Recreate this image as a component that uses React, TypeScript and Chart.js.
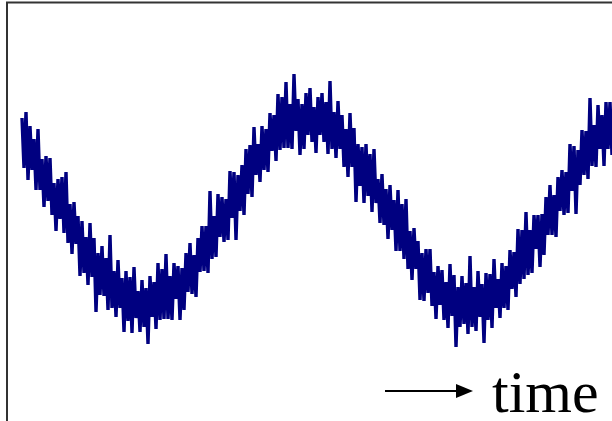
import React, { useEffect, useRef } from "react";
import { Chart, registerables } from "chart.js";

Chart.register(...registerables);

// Noisy periodic signal, one sample every time step (amplitude units)
const signal: number[] = [
  93, 43, 99, 31, 85,
  41, 72, 21, 82, 21,
  52, 4, 55, 10, 53,
  -4, 28, -20, 32, -8,
  34, -22, 39, -32, 7,
  -43, 9, -33, -5, -65,
  -10, -62, -26, -74, -12,
  -66, -27, -101, -42, -84,
  -35, -85, -47, -99, -24,
  -97, -60, -106, -49, -97,
  -67, -121, -60, -110, -66,
  -122, -56, -107, -80, -121,
  -69, -116, -77, -133, -65,
  -106, -71, -118, -52, -109,
  -58, -108, -43, -108, -65,
  -109, -52, -88, -55, -109,
  -57, -99, -42, -81, -32,
  -83, -44, -86, -27, -61,
  -15, -60, -15, -62, 20,
  -48, -5, -46, 17, -26,
  14, -31, 12, -29, 40,
  -7, 39, -29, 36, 0,
  46, -4, 62, 17, 66,
  14, 84, 36, 67, 29,
  85, 41, 82, 39, 98,
  60, 96, 50, 117, 61,
  114, 63, 129, 63, 107,
  62, 137, 80, 112, 56,
  107, 62, 118, 76, 123,
  69, 104, 58, 114, 76,
  118, 69, 109, 57, 130,
  62, 99, 53, 110, 62,
  96, 44, 82, 34, 98,
  44, 83, 9, 67, 25,
  64, 8, 67, 15, 57,
  -1, 62, 8, 32, -12,
  37, -14, 22, -28, 26,
  -19, 11, -40, 21, -40,
  7, -48, 12, -58, -20,
  -69, -17, -58, -30, -89,
  -42, -90, -38, -82, -38,
  -95, -61, -108, -55, -94,
  -59, -109, -71, -117, -53,
  -105, -64, -136, -76, -116,
  -65, -113, -72, -123, -45,
  -116, -76, -120, -60, -106,
  -73, -132, -62, -109, -63,
  -117, -48, -97, -68, -107,
  -52, -97, -55, -99, -39,
  -78, -41, -86, -18, -73,
  -19, -68, -1, -64, -19,
  -62, -4, -38, -4, -56,
  -3, -44, 14, -24, 26,
  -24, 16, -26, 34, 0,
  41, -4, 39, -2, 67,
  20, 65, -3, 61, 26,
  81, 36, 80, 32, 113,
  45, 86, 44, 106, 62,
  96, 45, 109, 62, 109,
  56, 124,
];

const axisLabel = "time";

export default function App() {
  const ref = useRef<HTMLCanvasElement | null>(null);

  useEffect(() => {
    if (!ref.current) return;
    const points = signal.map((v, i) => ({ x: i, y: v }));

    const overlay = {
      id: "frameAndLabel",
      afterDraw(chart: any) {
        const ctx = chart.ctx as CanvasRenderingContext2D;
        ctx.save();
        // frame
        ctx.strokeStyle = "#333333";
        ctx.lineWidth = 2;
        ctx.beginPath();
        ctx.moveTo(7, 430);
        ctx.lineTo(7, 2.5);
        ctx.lineTo(620, 2.5);
        ctx.stroke();
        // arrow
        ctx.strokeStyle = "#000000";
        ctx.fillStyle = "#000000";
        ctx.lineWidth = 2;
        ctx.beginPath();
        ctx.moveTo(385, 391);
        ctx.lineTo(460, 391);
        ctx.stroke();
        ctx.beginPath();
        ctx.moveTo(473, 391);
        ctx.lineTo(456, 384);
        ctx.lineTo(456, 398);
        ctx.closePath();
        ctx.fill();
        // label
        ctx.font = '60px "Liberation Serif", "Times New Roman", serif';
        ctx.textBaseline = "alphabetic";
        ctx.textAlign = "left";
        ctx.fillText(axisLabel, 492, 412);
        ctx.restore();
      },
    };

    const chart = new Chart(ref.current, {
      type: "line",
      data: {
        datasets: [
          {
            data: points,
            borderColor: "#000080",
            borderWidth: 3.4,
            borderJoinStyle: "miter",
            pointRadius: 0,
            tension: 0,
            fill: false,
          },
        ],
      },
      options: {
        animation: false,
        responsive: false,
        devicePixelRatio: 1,
        layout: { padding: 0 },
        plugins: {
          legend: { display: false },
          tooltip: { enabled: false },
          title: { display: false },
        },
        scales: {
          x: { type: "linear", min: -11, max: 295, display: false },
          y: { type: "linear", min: -210, max: 211, display: false },
        },
      },
      plugins: [overlay],
    });
    return () => chart.destroy();
  }, []);

  return (
    <div style={{ position: "fixed", left: 0, top: 0, width: 612, height: 421, background: "#ffffff", overflow: "hidden" }}>
      <canvas ref={ref} width={612} height={421} style={{ width: 612, height: 421, display: "block" }} />
    </div>
  );
}
